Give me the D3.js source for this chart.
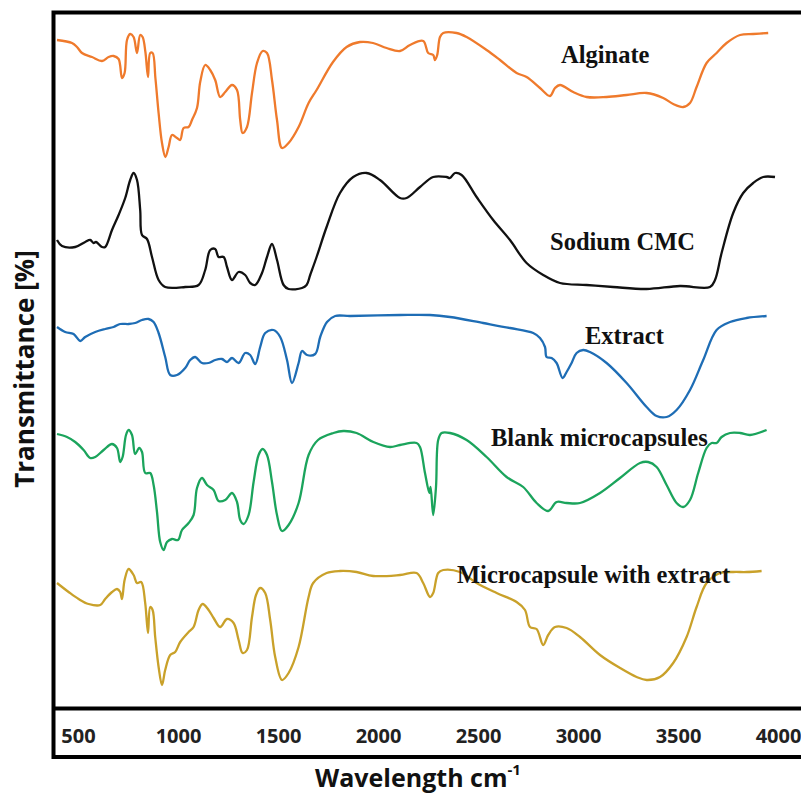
<!DOCTYPE html>
<html>
<head>
<meta charset="utf-8">
<script src="https://cdn.jsdelivr.net/npm/d3@7"></script>
<style>
  body { margin: 0; background: #fff; }
  svg { display: block; }
</style>
</head>
<body>
<svg id="chart" width="801" height="794"></svg>
<script>
// wavenumber (cm-1) tick labels
const tickValues = [500, 1000, 1500, 2000, 2500, 3000, 3500, 4000];

// each series: [wavenumber, offset transmittance (a.u.)]
const alginate = [
  [395,668],[470,665],[495,661],[520,655],[570,651],[620,647],[653,651],[678,652],[703,649],
  [720,630],[733,635],[745,668],[761,674],[778,671],[795,655],[811,673],[823,671],[837,656],
  [850,631],[861,655],[873,655],[887,630],[903,595],[920,565],[937,551],[953,561],[970,573],
  [995,570],[1011,568],[1028,580],[1053,581],[1070,588],[1095,600],[1111,626],[1136,643],
  [1161,638],[1186,628],[1211,611],[1236,616],[1270,623],[1295,618],[1311,588],[1323,575],
  [1345,581],[1370,615],[1395,645],[1423,657],[1445,655],[1470,628],[1495,588],[1520,560],
  [1553,565],[1603,581],[1653,605],[1693,618],[1775,646],[1843,661],[1910,666],[1975,665],
  [2043,660],[2110,657],[2160,663],[2226,667],[2251,655],[2276,653],[2285,648],[2296,653],
  [2310,671],[2326,675],[2393,675],[2443,671],[2543,658],[2610,648],[2693,635],[2743,631],
  [2810,620],[2860,612],[2885,620],[2910,623],[2976,616],[3043,611],[3143,611],[3243,613],
  [3343,615],[3426,610],[3476,604],[3526,601],[3560,605],[3593,621],[3643,645],[3693,655],
  [3743,665],[3810,673],[3876,674],[3951,675]
];

const sodiumCMC = [
  [395,468],[420,462],[486,461],[536,466],[561,468],[578,465],[590,466],[620,461],[636,461],
  [670,478],[703,493],[736,510],[761,528],[778,535],[795,528],[811,498],[820,473],[845,469],
  [870,451],[903,428],[936,421],[1036,421],[1103,423],[1136,438],[1161,458],[1186,459],
  [1203,451],[1228,451],[1245,441],[1270,428],[1303,436],[1336,433],[1361,425],[1386,423],
  [1420,435],[1445,451],[1470,464],[1495,448],[1528,423],[1553,419],[1620,420],[1643,423],
  [1661,433],[1693,451],[1743,481],[1810,515],[1876,531],[1943,535],[2010,528],[2110,510],
  [2143,510],[2210,521],[2276,531],[2343,531],[2360,530],[2385,535],[2418,533],[2493,511],
  [2576,488],[2660,468],[2743,445],[2826,433],[2910,425],[3043,423],[3176,421],[3343,419],
  [3510,422],[3660,421],[3685,428],[3718,455],[3776,495],[3826,515],[3876,525],[3926,531],
  [3985,531]
];

const extract = [
  [395,381],[436,376],[478,374],[511,367],[536,371],[586,376],[636,379],[678,381],[711,384],
  [753,384],[786,385],[820,388],[853,389],[878,386],[903,375],[936,351],[961,333],[995,333],
  [1036,340],[1061,348],[1086,351],[1120,345],[1153,345],[1186,348],[1220,349],[1245,346],
  [1270,350],[1303,345],[1336,355],[1361,353],[1386,344],[1411,361],[1436,375],[1478,378],
  [1511,371],[1545,348],[1570,325],[1603,345],[1620,357],[1645,353],[1686,354],[1711,371],
  [1745,386],[1786,392],[1861,392],[2110,393],[2260,393],[2360,391],[2526,385],[2660,380],
  [2776,375],[2810,370],[2835,361],[2843,351],[2868,350],[2893,345],[2923,330],[2943,336],
  [2968,345],[2993,355],[3026,358],[3060,356],[3143,345],[3243,325],[3343,301],[3393,292],
  [3443,291],[3493,298],[3560,318],[3626,348],[3693,378],[3760,386],[3843,390],[3943,392]
];

const blankMicro = [
  [395,274],[445,271],[486,266],[528,258],[561,250],[586,251],[628,258],[670,264],[695,260],
  [711,246],[723,251],[740,273],[753,278],[770,273],[786,254],[806,260],[820,256],[836,235],
  [861,235],[878,223],[895,196],[911,166],[928,158],[945,166],[970,169],[1000,168],[1020,178],
  [1053,185],[1078,193],[1095,220],[1120,230],[1145,223],[1178,218],[1203,207],[1236,208],
  [1270,215],[1295,206],[1311,188],[1328,184],[1353,193],[1378,226],[1403,253],[1423,259],
  [1445,253],[1470,226],[1495,193],[1520,177],[1553,183],[1603,205],[1653,253],[1700,268],
  [1777,275],[1827,277],[1893,275],[1977,266],[2060,261],[2110,263],[2193,265],[2210,261],
  [2235,235],[2257,215],[2263,221],[2276,193],[2290,221],[2301,268],[2318,275],[2360,275],
  [2443,268],[2543,251],[2643,231],[2726,221],[2793,205],[2851,197],[2893,206],[2943,205],
  [3010,205],[3110,215],[3210,230],[3310,245],[3351,246],[3393,241],[3443,223],[3493,205],
  [3526,201],[3560,208],[3601,235],[3643,260],[3668,265],[3693,265],[3718,271],[3760,275],
  [3810,275],[3860,273],[3943,278]
];

const microWithExtract = [
  [395,125],[453,116],[503,109],[553,104],[611,103],[636,109],[670,116],[695,119],[711,116],
  [720,109],[733,128],[753,139],[778,133],[795,125],[816,126],[836,105],[850,75],[861,101],
  [873,98],[886,71],[903,41],[920,23],[936,38],[961,53],[986,56],[1011,66],[1053,76],[1078,81],
  [1103,98],[1123,104],[1153,98],[1178,90],[1211,81],[1245,89],[1278,85],[1303,68],[1323,55],
  [1345,58],[1370,91],[1390,113],[1411,120],[1436,115],[1461,88],[1486,51],[1520,28],[1553,35],
  [1603,61],[1653,111],[1676,125],[1743,135],[1810,137],[1893,136],[1976,132],[2110,133],
  [2193,135],[2226,125],[2260,111],[2276,115],[2301,135],[2326,138],[2410,136],[2493,125],
  [2593,115],[2693,106],[2735,98],[2760,81],[2793,79],[2826,63],[2851,73],[2885,81],[2943,80],
  [3010,71],[3110,53],[3210,40],[3293,31],[3343,28],[3410,31],[3476,45],[3543,71],[3593,101],
  [3643,125],[3710,135],[3776,136],[3843,136],[3918,137]
];

const seriesNames = ["Alginate", "Sodium CMC", "Extract", "Blank microcapsules", "Microcapsule with extract"];
const seriesData = [alginate, sodiumCMC, extract, blankMicro, microWithExtract];
const seriesColors = ["#ef7a2c", "#111111", "#1e6db5", "#1ba45c", "#c9a12a"];
// label anchor [wavenumber, offset transmittance]
const labelPos = [[2915, 645], [2860, 458], [3035, 364], [2565, 262], [2395, 125]];

const svg = d3.select("#chart");

const x = d3.scaleLinear().domain([500, 4000]).range([78, 778]);
const y = d3.scaleLinear().domain([0, 696]).range([708, 12]);

const line = d3.line()
  .x(d => x(d[0]))
  .y(d => y(d[1]))
  .curve(d3.curveCatmullRom.alpha(0.5));

// curves
svg.append("g")
  .selectAll("path")
  .data(seriesData)
  .join("path")
    .attr("fill", "none")
    .attr("stroke", (d, i) => seriesColors[i])
    .attr("stroke-width", 2.3)
    .attr("stroke-linejoin", "round")
    .attr("d", line);

// series labels
svg.append("g")
  .style("font", "bold 24.5px 'Liberation Serif', 'Times New Roman', serif")
  .attr("fill", "#111")
  .selectAll("text")
  .data(seriesNames)
  .join("text")
    .attr("x", (d, i) => x(labelPos[i][0]))
    .attr("y", (d, i) => y(labelPos[i][1]))
    .text(d => d);

// frame
const frame = svg.append("g").attr("stroke", "#000").attr("stroke-width", 4).attr("fill", "none");
frame.append("rect").attr("x", 53.5).attr("y", 12.5).attr("width", 760).attr("height", 744.5);
frame.append("line").attr("x1", 53.5).attr("x2", 810).attr("y1", 708.5).attr("y2", 708.5);

// x axis labels
const xAxis = d3.axisBottom(x).tickValues(tickValues).tickFormat(d3.format("d")).tickSize(0).tickPadding(21);
const gx = svg.append("g").attr("transform", "translate(0,708)").call(xAxis);
gx.select(".domain").remove();
gx.selectAll("text")
  .style("font", "bold 20px 'Open Sans', sans-serif")
  .attr("fill", "#222");

// axis titles
svg.append("text")
  .attr("transform", "translate(34,369) rotate(-90)")
  .attr("text-anchor", "middle")
  .style("font", "bold 26px 'Open Sans', sans-serif")
  .attr("fill", "#111")
  .text("Transmittance [%]");

const xt = svg.append("text")
  .attr("x", 418)
  .attr("y", 787)
  .attr("text-anchor", "middle")
  .style("font", "bold 25px 'Open Sans', sans-serif")
  .attr("fill", "#111");
xt.append("tspan").text("Wavelength cm");
xt.append("tspan").attr("dy", -12).style("font-size", "15px").text("-1");
</script>
</body>
</html>
